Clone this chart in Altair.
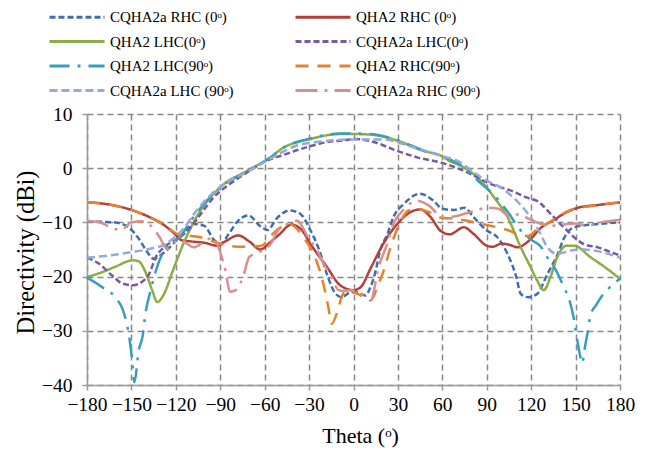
import altair as alt
import pandas as pd

# ---------------- data ----------------
names = [
    "CQHA2a RHC (0ᵒ)", "QHA2 RHC (0ᵒ)",
    "QHA2 LHC(0ᵒ)", "CQHA2a LHC(0ᵒ)",
    "QHA2 LHC(90ᵒ)", "QHA2 RHC(90ᵒ)",
    "CQHA2a LHC (90ᵒ)", "CQHA2a RHC (90ᵒ)",
]

blue_t = [-180, -170, -161, -152, -145, -140, -135, -129, -122, -117, -108, -101, -94, -90, -84, -78, -71, -63, -58, -52, -43, -36, -29, -23, -18, -12, -8, -2, 2, 8, 11.5, 15, 18, 23, 27, 34, 45, 54, 60, 68, 75, 81, 90, 97, 104, 110, 113, 118, 124, 131, 138, 142, 149, 165, 180]
blue_v = [-9.8, -9.9, -10.0, -10.9, -13.0, -15.2, -16.7, -15.8, -14.0, -12.6, -10.3, -10.6, -13.3, -14.0, -12.0, -9.7, -8.7, -10.7, -11.4, -9.3, -7.8, -8.4, -11.5, -15.2, -19.5, -23.2, -23.8, -22.9, -22.9, -23.5, -21.9, -18.9, -15.2, -12.1, -9.0, -6.6, -4.7, -6.0, -7.5, -7.7, -7.3, -9.0, -11.5, -12.7, -15.8, -20.1, -23.2, -23.8, -23.2, -19.5, -15.8, -13.0, -10.9, -10.3, -10.0]

red_t = [-180, -165, -150, -138, -129, -120, -116, -110, -100, -92, -86, -78, -70, -63, -56, -50, -42, -35, -29, -18, -9, 0, 5, 11.5, 20, 29.5, 38.5, 45, 52, 59, 65, 74.5, 81, 90, 94, 100, 106, 111, 118, 127, 135, 142, 153, 165, 180]
red_v = [-6.3, -6.7, -7.7, -9.0, -10.3, -12.3, -13.3, -13.5, -13.8, -14.3, -13.4, -12.4, -13.6, -15.0, -13.6, -12.2, -10.4, -11.4, -14.0, -18.2, -21.6, -22.5, -21.9, -18.5, -14.0, -10.3, -8.1, -7.6, -9.0, -11.6, -12.2, -10.9, -12.1, -14.3, -14.5, -13.9, -14.2, -14.6, -13.5, -10.9, -9.6, -8.4, -7.2, -6.8, -6.3]

green_t = [-180, -170, -161, -149, -145, -140, -136, -132.5, -128, -122, -115, -106, -90, -72, -56, -49, -29, -9, 0, 11.5, 29.5, 47, 59, 65, 72, 86, 95, 104, 113, 119.5, 124, 128.5, 133, 137.6, 144, 149, 160, 171, 180]
green_v = [-20.1, -19.2, -18.2, -17.0, -17.2, -19.5, -22.5, -24.7, -23.2, -18.9, -14.0, -9.0, -3.5, -0.5, 2.0, 3.5, 5.4, 6.3, 6.3, 6.2, 5.1, 3.2, 2.3, 1.3, 0.5, -2.3, -5.4, -9.0, -14.6, -18.2, -20.7, -22.5, -20.1, -16.4, -14.3, -14.3, -16.4, -18.5, -20.4]

purple_t = [-180, -172, -163, -156, -149, -143, -138, -133.5, -128, -118, -110, -103, -94.5, -85, -72, -56, -49, -36, -18, -4.5, 0, 11.5, 29.5, 43, 61, 77, 92.5, 106, 117, 126, 131, 142, 155.5, 165, 174, 180]
purple_v = [-16.5, -17.6, -19.8, -21.3, -21.6, -21.0, -19.5, -16.4, -14.6, -12.9, -10.9, -8.4, -5.4, -3.2, -0.8, 1.7, 2.3, 3.5, 4.8, 5.2, 5.4, 5.0, 3.2, 2.0, 0.9, -0.8, -2.9, -4.1, -5.4, -6.4, -7.8, -10.9, -14.0, -14.6, -15.5, -16.1]

teal_t = [-180, -170, -161, -155, -151.5, -149.5, -148, -145, -142.5, -140.5, -137, -133.5, -128, -122, -118, -110, -101, -90, -72, -56, -49, -29, -9, 0, 11.5, 29.5, 47, 59, 72, 86, 95, 104, 113, 120, 126, 131, 136, 142, 146, 149, 151, 153, 154.5, 156, 158, 160, 164, 168, 173, 180]
teal_v = [-20.2, -21.9, -23.8, -26.8, -31.1, -35.4, -39.5, -33.5, -31.1, -26.8, -22.5, -18.9, -15.2, -13.6, -12.9, -9.7, -6.6, -3.6, -0.6, 2.0, 3.5, 5.5, 6.4, 6.4, 6.3, 5.2, 3.3, 2.3, 0.6, -2.8, -5.0, -8.0, -11.5, -13.2, -14.3, -16.5, -18.5, -21.9, -24.5, -28.0, -31.5, -34.5, -36.0, -33.5, -30.5, -27.2, -25.2, -23.5, -22.0, -20.4]

orange_t = [-180, -165, -150, -138, -129, -120, -116, -110, -100, -92, -84, -76, -68, -62, -56, -47, -42.6, -34, -27, -21.5, -17, -14.7, -11.3, -8, -4.5, 0, 5, 11.5, 17, 20.4, 25, 30.5, 37.3, 43, 52, 60, 67, 75, 85, 97, 105, 113, 118, 124, 131, 140, 150, 160, 170, 180]
orange_v = [-6.3, -6.7, -7.7, -9.0, -10.3, -12.0, -12.5, -12.5, -13.0, -13.8, -14.3, -14.5, -14.4, -14.3, -12.5, -10.6, -10.4, -12.7, -15.8, -20.1, -25.6, -28.7, -26.8, -23.8, -22.2, -22.8, -23.5, -24.4, -21.3, -18.9, -14.6, -10.6, -7.8, -7.5, -8.2, -9.2, -9.3, -9.6, -10.2, -10.9, -11.5, -12.4, -12.5, -11.3, -10.2, -8.6, -7.4, -7.0, -6.6, -6.3]

lblue_t = [-180, -165, -150, -138, -127, -122, -115, -106, -96.7, -85.4, -72, -56, -40, -20, 0, 20, 40, 59, 72, 81, 90, 99, 108, 117, 122, 126, 131, 137.6, 146.6, 155.5, 164.6, 172, 180]
lblue_v = [-16.5, -16.1, -15.5, -14.9, -14.0, -13.0, -11.2, -7.8, -5.0, -2.6, -0.7, 1.8, 4.0, 5.0, 5.3, 5.3, 3.9, 2.3, 1.1, -0.7, -2.3, -3.5, -5.4, -8.1, -10.0, -12.0, -14.6, -15.8, -15.2, -15.0, -15.3, -15.8, -16.5]

pink_t = [-180, -170, -165, -157, -150, -143, -137, -131, -126, -118, -112, -108, -101, -95, -89, -86.5, -83.5, -79, -74, -70.5, -64, -59, -56, -51, -48, -43, -38, -31, -24.6, -19, -15, -10, -6, -2, 5, 11.5, 17, 22.7, 26.5, 34, 43, 51, 60, 68, 75, 83, 90, 98, 105, 112, 118, 125, 134, 142, 149, 158, 167, 180]
pink_v = [-9.7, -10.1, -10.8, -11.4, -10.0, -9.8, -10.6, -12.7, -14.9, -13.2, -14.0, -14.6, -13.6, -12.8, -16.4, -18.9, -22.8, -22.4, -19.5, -16.4, -15.5, -14.8, -14.0, -11.5, -10.9, -10.0, -9.7, -12.6, -15.2, -18.2, -20.0, -22.5, -22.6, -22.5, -23.2, -24.4, -18.2, -14.0, -10.6, -7.6, -6.0, -6.9, -9.0, -8.9, -8.4, -7.8, -7.3, -7.5, -8.8, -8.5, -9.3, -10.1, -10.6, -10.4, -10.2, -10.6, -10.0, -9.5]

series_t = [blue_t, red_t, green_t, purple_t, teal_t, orange_t, lblue_t, pink_t]
series_v = [blue_v, red_v, green_v, purple_v, teal_v, orange_v, lblue_v, pink_v]

colors = ["#3F6FAE", "#B5403A", "#8AAE45", "#7A5A9E", "#36A0BC", "#E6822F", "#92ABD8", "#D98F8D"]
dashes = [[6, 3], [1, 0], [1, 0], [6, 3], [20, 8, 3, 8], [13, 9], [8, 4], [22, 7, 3, 7]]

rows = []
for name, ts, vs in zip(names, series_t, series_v):
    for t, v in zip(ts, vs):
        rows.append({"series": name, "theta": t, "dB": v})
df = pd.DataFrame(rows)

FONT = "Liberation Serif"

legend = alt.Legend(
    title=None, orient="none", legendX=-21.5, legendY=-108.5, columns=2,
    direction="horizontal",
    columnPadding=56, rowPadding=4.5, padding=0,
    symbolType="M-2.75,0H2.75", symbolSize=400, symbolStrokeWidth=3,
    labelFont=FONT, labelFontSize=15, labelColor="black",
    labelOffset=21.5, labelLimit=400,
)

chart = alt.Chart(df).mark_line(strokeWidth=2.5, interpolate="monotone").encode(
    x=alt.X("theta:Q",
            scale=alt.Scale(domain=[-180, 180], nice=False, zero=False),
            axis=alt.Axis(values=list(range(-180, 181, 30)), title="Theta (ᵒ)",
                          titleX=273, titleY=50, titleAlign="center",
                          titleBaseline="middle", labelPadding=5,
                          labelOverlap=False, labelFlush=False)),
    y=alt.Y("dB:Q",
            scale=alt.Scale(domain=[-40, 10], nice=False, zero=False),
            axis=alt.Axis(values=list(range(-40, 11, 10)), title="Directivity (dBi)",
                          titleX=-61, titleY=138, titleAlign="center",
                          titleBaseline="middle", titleFontSize=24.5, labelPadding=10,
                          labelOverlap=False, labelFlush=False)),
    color=alt.Color("series:N", scale=alt.Scale(domain=names, range=colors),
                    sort=names, legend=legend),
    strokeDash=alt.StrokeDash("series:N", scale=alt.Scale(domain=names, range=dashes),
                              sort=names, legend=legend),
).properties(
    width=533, height=271,
    autosize=alt.AutoSizeParams(type="none"),
    padding={"left": 79, "top": 106, "right": 28, "bottom": 63},
).configure_view(
    stroke=None
).configure_axis(
    labelFont=FONT, labelFontSize=19.5, labelColor="black",
    titleFont=FONT, titleFontSize=22, titleFontWeight="normal", titleColor="black",
    domainColor="#9a9a9a", domainWidth=1.5,
    tickColor="#9a9a9a", tickSize=5, tickWidth=1.5,
    gridColor="#888888", gridDash=[6, 4], gridWidth=1.5, gridOpacity=1,
)

chart.save("out.html", embed_options={"renderer": "svg", "actions": False})
